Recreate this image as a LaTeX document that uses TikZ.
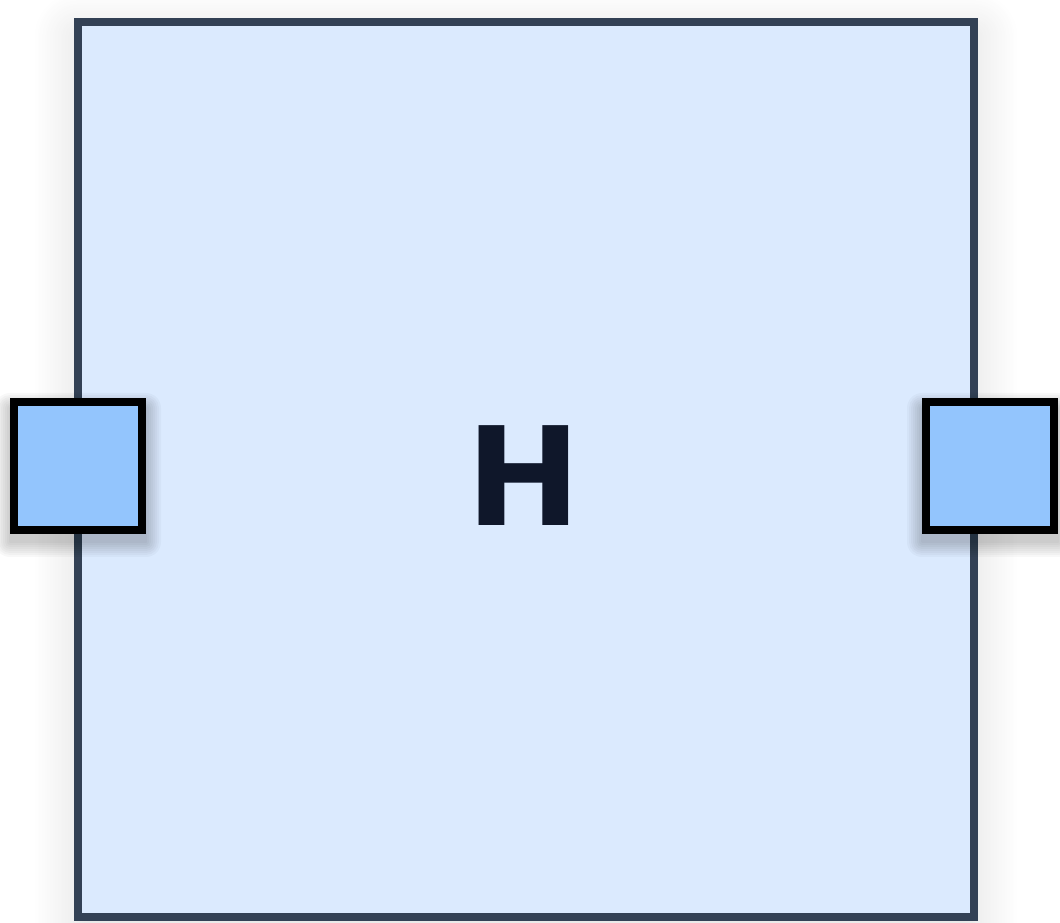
\documentclass[tikz,border=0pt]{standalone}
\usepackage{fontspec}
\setmainfont{DejaVu Sans}
\usetikzlibrary{shadows.blur}
\definecolor{boxborder}{HTML}{334155}
\definecolor{boxfill}{HTML}{DBEAFE}
\definecolor{portfill}{HTML}{93C5FD}
\definecolor{txt}{HTML}{0F172A}
\tikzset{
  mainbox/.style={draw=boxborder, fill=boxfill, line width=7.5pt, minimum width=896pt, minimum height=895pt, inner sep=0pt,
    blur shadow={shadow xshift=0pt, shadow yshift=-14pt, shadow blur radius=45pt, shadow blur steps=30, shadow opacity=14}},
  port/.style={draw=black, fill=portfill, line width=8pt, minimum width=128pt, minimum height=128pt, inner sep=0pt},
  softshade/.style={fill=black, opacity=0.028},
  lbl/.style={text=txt, font=\fontsize{137}{137}\selectfont\bfseries, inner sep=0pt}
}
\begin{document}
\begin{tikzpicture}[x=1pt,y=1pt]
\useasboundingbox (0,0) rectangle (1060,922);
\node[mainbox] (main) at (526,452.5) {};
\node[lbl] (h) at (523.5,446) {H};
\coordinate (pinc) at (78,456);
\coordinate (poutc) at (990,456);
\foreach \c in {pinc,poutc}{
  \foreach \r in {1,3,...,15}{
    \fill[softshade, rounded corners=\r pt]
      ([xshift=-68-\r, yshift=-76-\r]\c) rectangle ([xshift=68+\r, yshift=58+\r]\c);
  }
}
\node[port] (pin) at (pinc) {};
\node[port] (pout) at (poutc) {};
\end{tikzpicture}
\end{document}
